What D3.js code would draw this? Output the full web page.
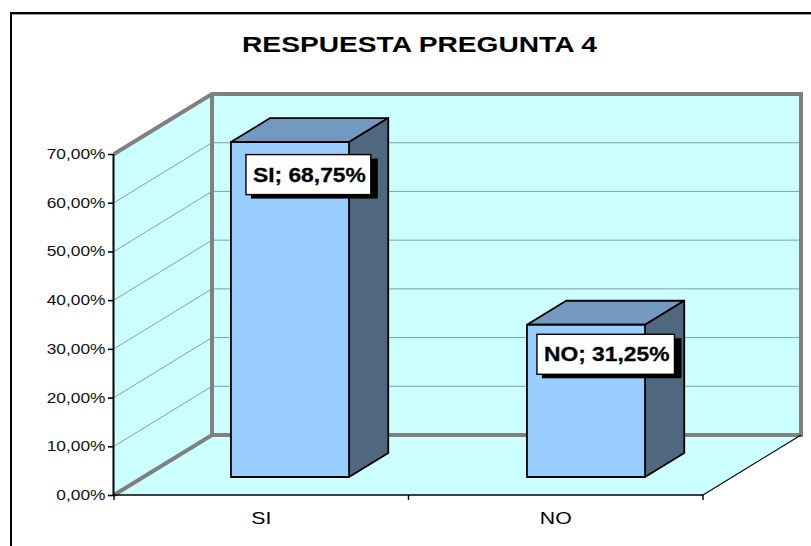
<!DOCTYPE html>
<html><head><meta charset="utf-8">
<script src="https://cdn.jsdelivr.net/npm/d3@7"></script>
<style>html,body{margin:0;background:#fff}svg{display:block}text{font-family:"Liberation Sans",Arial,sans-serif}</style>
</head><body><div id="c"></div>
<script>
const categories = ["SI", "NO"];
const values = [68.75, 31.25];
const labels = ["SI; 68,75%", "NO; 31,25%"];
const yTicks = [0, 10, 20, 30, 40, 50, 60, 70];
const title = "RESPUESTA PREGUNTA 4";

const W = 811, H = 546;
const svg = d3.select("#c").append("svg").attr("width", W).attr("height", H);
const fmt = v => v.toFixed(2).replace(".", ",") + "%";

const y = d3.scaleLinear().domain([0, 70]).range([495, 154]);
const xAxis = d3.scaleBand().domain(categories).range([114, 703]);
const xBars = d3.scaleBand().domain(categories).range([112.6, 704.6]).paddingInner(0.601).paddingOuter(0.3005);
const dx = 98, dy = -60;             // full depth of the box
const barDepth0 = 0.3, barDepth1 = 0.7;
const poly = (pts, fill, stroke, sw) => svg.append("polygon").attr("points", pts.map(p => p.join(",")).join(" "))
  .attr("fill", fill).attr("stroke", stroke || "none").attr("stroke-width", sw || 0).attr("stroke-linejoin", "round");
const line = (a, b, stroke, sw) => svg.append("line").attr("x1", a[0]).attr("y1", a[1]).attr("x2", b[0]).attr("y2", b[1])
  .attr("stroke", stroke).attr("stroke-width", sw);
// glyphs in the reference are stretched horizontally
const stretched = (px, py, str, size, sx, anchor, weight) => svg.append("text")
  .attr("transform", `translate(${px},${py}) scale(${sx},1)`)
  .attr("text-anchor", anchor).attr("font-size", size).attr("font-weight", weight).attr("fill", "#000").text(str);

// frame: top and left edges only reach into the picture
svg.append("rect").attr("x", 11).attr("y", 13).attr("width", 900).attr("height", 640)
  .attr("fill", "#fff").attr("stroke", "#000").attr("stroke-width", 2);
line([12, 14.5], [W, 14.5], "#999", 1);

const x0 = 114, x1 = 703, yb = y(0), yt = y(70);
// walls and floor
poly([[x0, yb], [x0 + dx, yb + dy], [x0 + dx, yt + dy], [x0, yt]], "#ccffff");
poly([[x0 + dx, yb + dy], [x1 + dx, yb + dy], [x1 + dx, yt + dy], [x0 + dx, yt + dy]], "#ccffff");
poly([[x0, yb], [x1, yb], [x1 + dx, yb + dy], [x0 + dx, yb + dy]], "#ccffff");

// gridlines
yTicks.slice(1, -1).forEach(t => {
  const g = y(t);
  line([x0, g], [x0 + dx, g + dy], "#6f8c8c", 0.8);
  line([x0 + dx, g + dy], [x1 + dx, g + dy], "#6f8c8c", 0.8);
});

// thick wall edges
const grey = "#808080";
svg.append("path").attr("fill", "none").attr("stroke", grey).attr("stroke-width", 4).attr("stroke-linejoin", "miter")
  .attr("d", `M${x0},${yt}L${x0 + dx},${yt + dy}L${x1 + dx},${yt + dy}L${x1 + dx},${yb + dy}L${x0 + dx},${yb + dy}L${x0},${yb}`);
line([x0 + dx, yt + dy], [x0 + dx, yb + dy], grey, 4);

// floor edges
line([x0, yb], [x1, yb], "#000", 1.6);
line([x1, yb], [x1 + dx, yb + dy], "#000", 1.2);

// axes
line([x0 - 0.5, yt], [x0 - 0.5, yb], "#000", 2);
const ticksY = svg.append("g").attr("transform", `translate(${x0},0)`)
  .call(d3.axisLeft(y).tickValues(yTicks).tickFormat(fmt).tickSize(6));
ticksY.select(".domain").remove();
ticksY.selectAll("line").attr("stroke", "#000").attr("stroke-width", 1.6);
ticksY.selectAll("text").attr("font-size", 14).attr("fill", "#111").attr("x", 0)
  .attr("transform", "translate(-8.5,0) scale(1.24,1)");

[x0, (x0 + x1) / 2, x1].forEach(v => line([v, yb], [v, yb + 5], "#000", 1.4));
categories.forEach(c => stretched(xAxis(c) + xAxis.bandwidth() / 2, 523.5, c, 17, 1.25, "middle", "normal"));

// bars
const labelBoxes = [[15, 12.5], [10, 9.5]];
categories.forEach((c, i) => {
  const l = xBars(c) + barDepth0 * dx, r = l + xBars.bandwidth();
  const b = yb + barDepth0 * dy, t = y(values[i]) + barDepth0 * dy;
  const ox = (barDepth1 - barDepth0) * dx, oy = (barDepth1 - barDepth0) * dy;
  const s = "#000", sw = 1.8;
  poly([[l, t], [r, t], [r + ox, t + oy], [l + ox, t + oy]], "#7399c0", s, sw);
  poly([[r, b], [r + ox, b + oy], [r + ox, t + oy], [r, t]], "#4f6880", s, sw);
  poly([[l, b], [r, b], [r, t], [l, t]], "#99ccff", s, sw);

  // data label: box sized from its stretched text
  const sx = 1.17, lx = l + labelBoxes[i][0], ly = t + labelBoxes[i][1], bh = 40, pad = 8;
  const shadow = svg.append("rect"), box = svg.append("rect");
  const txt = stretched(lx, ly + 27, labels[i], 19.5, sx, "start", "bold").attr("stroke", "#000").attr("stroke-width", 0.25);
  const bw = txt.node().getComputedTextLength() * sx + pad * 2 - 4;
  txt.attr("transform", `translate(${lx + pad - 1},${ly + 27}) scale(${sx},1)`);
  shadow.attr("x", lx + 5).attr("y", ly + 4).attr("width", bw + 2).attr("height", bh).attr("fill", "#000");
  box.attr("x", lx).attr("y", ly).attr("width", bw).attr("height", bh).attr("fill", "#fff").attr("stroke", "#000").attr("stroke-width", 1.4);
});

stretched(419.5, 52, title, 22, 1.28, "middle", "bold");
</script></body></html>
